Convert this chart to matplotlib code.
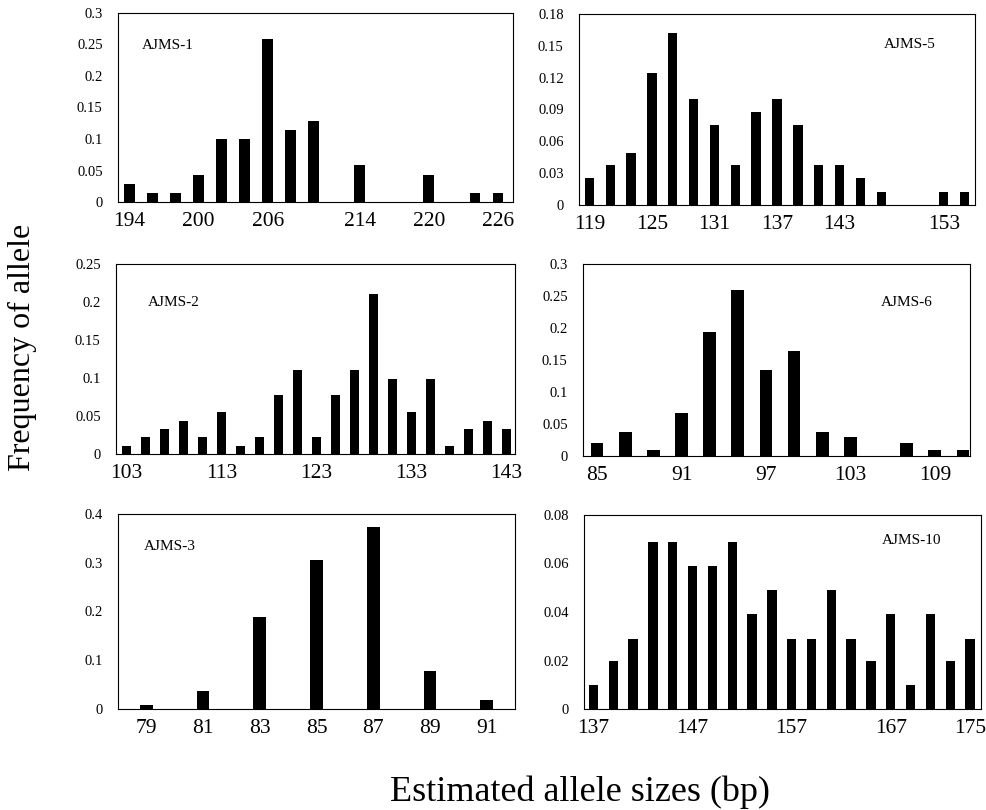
import matplotlib
matplotlib.use('Agg')
import matplotlib.pyplot as plt
from matplotlib.ticker import FuncFormatter

plt.rcParams['font.family'] = ['Liberation Serif', 'DejaVu Serif']

# allele sizes (bp) and frequencies
ajms1_size = [194, 196, 198, 200, 202, 204, 206, 208, 210, 214, 220, 224, 226]
ajms1_freq = [0.028, 0.014, 0.014, 0.043, 0.100, 0.100, 0.258, 0.114, 0.129, 0.059, 0.043, 0.014, 0.014]
ajms1_ticks = [194, 200, 206, 214, 220, 226]
ajms1_yticks = [0, 0.05, 0.1, 0.15, 0.2, 0.25, 0.3]

ajms5_size = [119, 121, 123, 125, 127, 129, 131, 133, 135, 137, 139, 141, 143, 145, 147, 153, 155]
ajms5_freq = [0.025, 0.0375, 0.049, 0.124, 0.162, 0.100, 0.075, 0.0375, 0.0875, 0.100, 0.075,
              0.0375, 0.0375, 0.025, 0.0125, 0.0125, 0.0125]
ajms5_ticks = [119, 125, 131, 137, 143, 153]
ajms5_yticks = [0, 0.03, 0.06, 0.09, 0.12, 0.15, 0.18]

ajms2_size = [103, 105, 107, 109, 111, 113, 115, 117, 119, 121, 123, 125, 127, 129, 131, 133, 135,
              137, 139, 141, 143]
ajms2_freq = [0.011, 0.022, 0.033, 0.043, 0.022, 0.055, 0.011, 0.022, 0.077, 0.110, 0.022, 0.077,
              0.110, 0.211, 0.099, 0.055, 0.099, 0.011, 0.033, 0.043, 0.033]
ajms2_ticks = [103, 113, 123, 133, 143]
ajms2_yticks = [0, 0.05, 0.1, 0.15, 0.2, 0.25]

ajms6_size = [85, 87, 89, 91, 93, 95, 97, 99, 101, 103, 107, 109, 111]
ajms6_freq = [0.020, 0.038, 0.010, 0.067, 0.193, 0.260, 0.134, 0.164, 0.038, 0.029, 0.020, 0.010, 0.010]
ajms6_ticks = [85, 91, 97, 103, 109]
ajms6_yticks = [0, 0.05, 0.1, 0.15, 0.2, 0.25, 0.3]

ajms3_size = [79, 81, 83, 85, 87, 89, 91]
ajms3_freq = [0.008, 0.036, 0.188, 0.305, 0.373, 0.077, 0.018]
ajms3_ticks = [79, 81, 83, 85, 87, 89, 91]
ajms3_yticks = [0, 0.1, 0.2, 0.3, 0.4]

ajms10_size = [137, 139, 141, 143, 145, 147, 149, 151, 153, 155, 157, 159, 161, 163, 165, 167, 169,
               171, 173, 175]
ajms10_freq = [0.010, 0.020, 0.029, 0.069, 0.069, 0.059, 0.059, 0.069, 0.039, 0.049, 0.029, 0.029,
               0.049, 0.029, 0.020, 0.039, 0.010, 0.039, 0.020, 0.029]
ajms10_ticks = [137, 147, 157, 167, 175]
ajms10_yticks = [0, 0.02, 0.04, 0.06, 0.08]

W, H = 987, 810
fig = plt.figure(figsize=(W / 100, H / 100), dpi=100)

# (name, sizes, freqs, xticks, yticks, box px [l, t, r, b], xlim, bar width, label pos)
panels = [
    ('AJMS-1', ajms1_size, ajms1_freq, ajms1_ticks, ajms1_yticks, [118, 13, 513, 202], (193, 227.3), 0.95, (0.06, 0.83)),
    ('AJMS-5', ajms5_size, ajms5_freq, ajms5_ticks, ajms5_yticks, [579, 14, 975, 205], (118, 156), 0.9, (0.77, 0.84)),
    ('AJMS-2', ajms2_size, ajms2_freq, ajms2_ticks, ajms2_yticks, [116, 264, 515, 454], (101.9, 143.9), 0.87, (0.08, 0.8)),
    ('AJMS-6', ajms6_size, ajms6_freq, ajms6_ticks, ajms6_yticks, [583, 264, 970, 456], (84, 111.5), 0.9, (0.77, 0.8)),
    ('AJMS-3', ajms3_size, ajms3_freq, ajms3_ticks, ajms3_yticks, [118, 514, 515, 709], (78, 92), 0.45, (0.065, 0.835)),
    ('AJMS-10', ajms10_size, ajms10_freq, ajms10_ticks, ajms10_yticks, [584, 515, 981, 709], (136.05, 176.1), 0.94, (0.75, 0.87)),
]

for name, x, y, xt, yt, box, xlim, bw, lab in panels:
    l, t, r, b = box
    ax = fig.add_axes([l / W, 1 - b / H, (r - l) / W, (b - t) / H])
    ax.bar(x, y, width=bw, color='black')
    ax.set_xlim(*xlim)
    ax.set_ylim(0, yt[-1])
    ax.set_xticks(xt)
    ax.set_yticks(yt)
    ax.yaxis.set_major_formatter(FuncFormatter(lambda v, p: '%g' % round(v, 3)))
    ax.tick_params(axis='x', length=0, labelsize=15.5, pad=7)
    ax.tick_params(axis='y', length=0, labelsize=10.5, pad=11)
    for s in ax.spines.values():
        s.set_linewidth(0.8)
    ax.text(lab[0], lab[1], name, transform=ax.transAxes, fontsize=11, va='center')

fig.text(22 / W, 1 - 347 / H, 'Frequency of allele', rotation=90, fontsize=23,
         ha='center', va='center')
fig.text(580 / W, 1 - 792 / H, 'Estimated allele sizes (bp)', fontsize=26,
         ha='center', va='center')

fig.savefig('out.png', dpi=100)
